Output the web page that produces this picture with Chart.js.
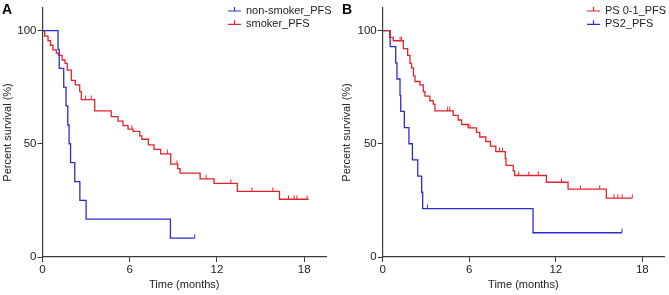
<!DOCTYPE html>
<html>
<head>
<meta charset="utf-8">
<script src="https://cdn.jsdelivr.net/npm/chart.js@4.4.0/dist/chart.umd.min.js"></script>
<style>
  html, body { margin: 0; padding: 0; background: #fff; }
  #wrap { position: relative; width: 669px; height: 295px; }
  .panel { position: absolute; top: 0; height: 295px; }
  #panelA { left: 0; width: 335px; }
  #panelB { left: 335px; width: 334px; }
</style>
</head>
<body>
<div id="wrap">
  <div class="panel" id="panelA"><canvas id="chartA" width="335" height="295"></canvas></div>
  <div class="panel" id="panelB"><canvas id="chartB" width="334" height="295"></canvas></div>
</div>
<script>
// KAPLAN-MEIER PFS, two panels

const xTicks = [0, 6, 12, 18];
const yTicks = [0, 50, 100];

// panel A
const nonSmokerTime = [0, 1.07, 1.15, 1.46, 1.62, 1.74, 1.83, 1.93, 2.22, 2.57, 3.0, 8.8, 10.47];
const nonSmokerSurv = [100, 91.7, 83.3, 75, 66.7, 58.3, 50, 41.7, 33.3, 25, 16.7, 8.3, 8.3];
const nonSmokerCensor = [10.47];

const smokerTime = [0, 0.15, 0.38, 0.55, 0.72, 0.95, 1.1, 1.35, 1.55, 1.7, 1.98, 2.26, 2.56, 2.67, 3.59, 4.73, 5.19, 5.54, 5.88, 6.23, 6.69, 6.83, 7.28, 7.67, 8.13, 8.82, 9.3, 9.46, 10.84, 11.8, 13.4, 16.3, 18.3];
const smokerSurv = [100, 97.5, 95.5, 93.5, 91.5, 90, 89, 87, 85.5, 82.5, 78, 76, 73, 69.5, 64.5, 62, 60, 58, 56.5, 55.5, 53.5, 52, 49.5, 47.5, 45.5, 41, 39, 37, 34.5, 32.5, 29, 25.5, 25.5];
const smokerCensor = [2.95, 3.35, 6.15, 8.6, 9.25, 11.25, 12.95, 14.4, 15.84, 16.92, 17.3, 17.5, 18.2];

// panel B
const ps01Time = [0, 0.48, 0.73, 1.43, 1.73, 1.89, 2.0, 2.13, 2.24, 2.58, 2.82, 2.93, 3.27, 3.5, 3.62, 4.89, 5.23, 5.47, 5.93, 6.5, 6.73, 7.15, 7.47, 7.84, 8.5, 8.55, 9.05, 9.15, 11.35, 12.85, 15.5, 17.3];
const ps01Surv = [100, 97, 95.5, 92, 89, 85.5, 83.5, 80, 77.5, 76, 73, 71, 69, 67.5, 64.5, 62.5, 60.5, 58.5, 57, 55, 53, 51, 49, 46.5, 43.5, 40.5, 38, 36, 33, 30, 26, 26];
const ps01Censor = [1.2, 1.31, 4.5, 4.65, 6.05, 8.1, 8.3, 9.43, 10.13, 10.78, 12.39, 13.7, 15.04, 16.03, 16.3, 16.6, 17.3];

const ps2Time = [0, 0.52, 0.9, 0.99, 1.2, 1.25, 1.5, 1.82, 2.06, 2.43, 2.7, 2.77, 10.42, 16.58];
const ps2Surv = [100, 92.9, 85.7, 78.6, 71.4, 64.3, 57.1, 50, 42.9, 35.7, 28.6, 21.4, 10.7, 10.7];
const ps2Censor = [3.1, 16.58];

const RED = "#e3232b";
const BLUE = "#2b2bd2";
const FONT = '"Liberation Sans", Arial, sans-serif';
const TEXT = "#222";
const AXIS = "#3a3a3a";

function stepPoints(times, surv) {
  return times.map((t, i) => ({ x: t, y: surv[i] }));
}

function survivalAt(times, surv, t) {
  let s = surv[0];
  for (let i = 0; i < times.length; i++) {
    if (times[i] <= t) s = surv[i];
  }
  return s;
}

function censorPoints(times, surv, cens) {
  return cens.map((t) => ({ x: t, y: survivalAt(times, surv, t) }));
}

// small upward tick used as censor mark
function tickImage(color) {
  const c = document.createElement("canvas");
  c.width = 3;
  c.height = 9;
  const g = c.getContext("2d");
  g.strokeStyle = color;
  g.lineWidth = 1;
  g.beginPath();
  g.moveTo(1.5, 0.5);
  g.lineTo(1.5, 4.5);
  g.stroke();
  return c;
}

const kmLegend = {
  id: "kmLegend",
  afterDraw(chart, args, opts) {
    const ctx = chart.ctx;
    ctx.save();
    ctx.font = "11px " + FONT;
    ctx.textBaseline = "middle";
    opts.items.forEach((it, i) => {
      const y = opts.y + i * opts.gap;
      ctx.strokeStyle = it.color;
      ctx.lineWidth = 1.2;
      ctx.beginPath();
      ctx.moveTo(opts.x, y);
      ctx.lineTo(opts.x + 13, y);
      ctx.moveTo(opts.x + 6.5, y);
      ctx.lineTo(opts.x + 6.5, y - 4);
      ctx.stroke();
      ctx.fillStyle = TEXT;
      ctx.fillText(it.label, opts.x + 18, y);
    });
    ctx.font = "bold 14px " + FONT;
    ctx.fillStyle = "#000";
    ctx.fillText(opts.letter, opts.letterX, opts.letterY);
    ctx.restore();
  },
};

function makeKm(canvasId, series, legendOpts, padLeft, yWidth, padRight) {
  const datasets = [];
  series.forEach((s) => {
    datasets.push({
      type: "line",
      label: s.label,
      data: stepPoints(s.time, s.surv),
      stepped: true,
      borderColor: s.color,
      borderWidth: 1.3,
      pointRadius: 0,
      fill: false,
    });
    datasets.push({
      type: "scatter",
      label: s.label + " censored",
      data: censorPoints(s.time, s.surv, s.censor),
      pointStyle: tickImage(s.color),
      pointRadius: 3,
      showLine: false,
    });
  });

  return new Chart(document.getElementById(canvasId), {
    type: "line",
    data: { datasets },
    plugins: [kmLegend],
    options: {
      responsive: false,
      animation: false,
      layout: { padding: { left: padLeft, top: 6, right: padRight, bottom: 0 } },
      plugins: {
        legend: { display: false },
        tooltip: { enabled: false },
        kmLegend: legendOpts,
      },
      scales: {
        x: {
          type: "linear",
          min: 0,
          max: 19.5,
          afterBuildTicks: (s) => { s.ticks = xTicks.map((v) => ({ value: v })); },
          afterFit: (s) => { s.height = 38; },
          grid: { display: true, drawOnChartArea: false, tickLength: 5, color: AXIS },
          border: { display: true, color: AXIS, width: 1.2 },
          ticks: { color: TEXT, font: { size: 11.5, family: FONT }, padding: 1, maxRotation: 0 },
          title: { display: true, text: "Time (months)", color: TEXT, font: { size: 11, family: FONT }, padding: { top: 0, bottom: 3 } },
        },
        y: {
          type: "linear",
          min: 0,
          max: 110,
          afterBuildTicks: (s) => { s.ticks = yTicks.map((v) => ({ value: v })); },
          afterFit: (s) => { s.width = yWidth; },
          grid: { display: true, drawOnChartArea: false, tickLength: 5, color: AXIS },
          border: { display: true, color: AXIS, width: 1.2 },
          ticks: { color: TEXT, font: { size: 11.5, family: FONT }, padding: 1 },
          title: { display: true, text: "Percent survival (%)", color: TEXT, font: { size: 11, family: FONT }, padding: { top: 1, bottom: 0 } },
        },
      },
    },
  });
}

document.addEventListener("DOMContentLoaded", () => {
  makeKm(
    "chartA",
    [
      { label: "non-smoker_PFS", color: BLUE, time: nonSmokerTime, surv: nonSmokerSurv, censor: nonSmokerCensor },
      { label: "smoker_PFS", color: RED, time: smokerTime, surv: smokerSurv, censor: smokerCensor },
    ],
    {
      x: 228, y: 11, gap: 13.3,
      items: [
        { label: "non-smoker_PFS", color: BLUE },
        { label: "smoker_PFS", color: RED },
      ],
      letter: "A", letterX: 2, letterY: 10,
    },
    0, 42.5, 9
  );

  makeKm(
    "chartB",
    [
      { label: "PS 0-1_PFS", color: RED, time: ps01Time, surv: ps01Surv, censor: ps01Censor },
      { label: "PS2_PFS", color: BLUE, time: ps2Time, surv: ps2Surv, censor: ps2Censor },
    ],
    {
      x: 252, y: 11, gap: 13.3,
      items: [
        { label: "PS 0-1_PFS", color: RED },
        { label: "PS2_PFS", color: BLUE },
      ],
      letter: "B", letterX: 7, letterY: 10,
    },
    4.5, 43.2, 3
  );
});
</script>
</body>
</html>
